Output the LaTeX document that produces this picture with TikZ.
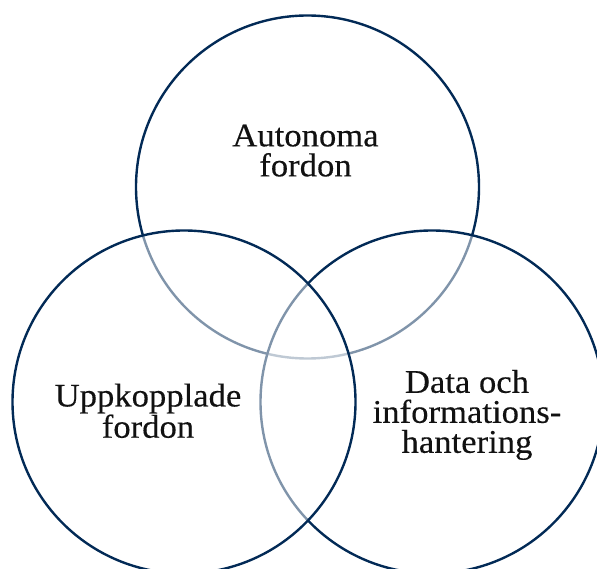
\documentclass[tikz,border=0pt]{standalone}
\usepackage{fontspec}
\setmainfont{Liberation Serif}[FakeStretch=1.05, FakeBold=0.3]
\definecolor{navy}{RGB}{2,42,86}
\definecolor{ink}{RGB}{17,17,17}
\begin{document}
\begin{tikzpicture}[x=1pt,y=-1pt,
  setcircle/.style={circle, draw=navy, line width=2.4pt, fill=white,
    fill opacity=0.5, draw opacity=1, minimum size=343pt, inner sep=0pt},
  setlabel/.style={align=center, text=ink, inner sep=0pt,
    font=\fontsize{33}{30}\selectfont}]
  \useasboundingbox (0,0) rectangle (597,569);
  % three overlapping sets; each later one veils the outlines beneath it
  \node[setcircle] (auto) at (307.5,187) {};
  \node[setcircle] (data) at (432,402) {};
  \node[setcircle] (conn) at (184,402) {};
  % set names
  \node[setlabel] (lauto) at (305.5,150.6) {Autonoma\\fordon};
  \node[setlabel] (lconn) at (148,410.8) {Uppkopplade\\fordon};
  \node[setlabel] (ldata) at (467,414.9) {Data och\\informations-\\hantering};
\end{tikzpicture}
\end{document}
